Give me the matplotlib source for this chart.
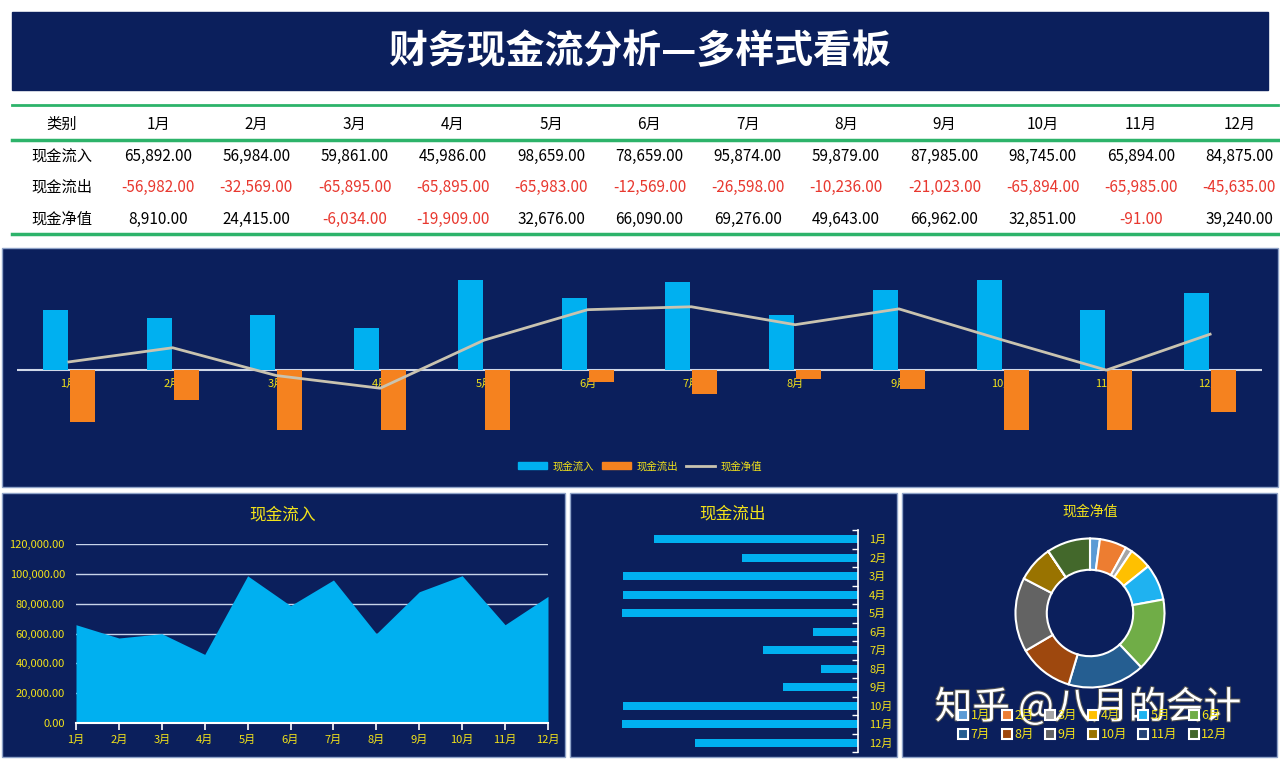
import numpy as np
import matplotlib
matplotlib.use("Agg")
import matplotlib.pyplot as plt
from matplotlib.patches import Rectangle
from matplotlib.lines import Line2D
from matplotlib.patches import Patch
import matplotlib.patheffects as pe

plt.rcParams['font.family'] = ['Noto Sans CJK SC', 'DejaVu Sans']

# data
months = ["1月", "2月", "3月", "4月", "5月", "6月", "7月", "8月", "9月", "10月", "11月", "12月"]
row_names = ["现金流入", "现金流出", "现金净值"]
inflow = [65892, 56984, 59861, 45986, 98659, 78659, 95874, 59879, 87985, 98745, 65894, 84875]
outflow = [-56982, -32569, -65895, -65895, -65983, -12569, -26598, -10236, -21023, -65894, -65985, -45635]
net = [8910, 24415, -6034, -19909, 32676, 66090, 69276, 49643, 66962, 32851, -91, 39240]
area_ticks = [0, 20000, 40000, 60000, 80000, 100000, 120000]
pie_colors = ["#5B9BD5", "#ED7D31", "#A5A5A5", "#FFC000", "#1FB2F0", "#70AD47",
              "#255E91", "#9E480E", "#636363", "#997300", "#264478", "#43682B"]

W, H = 1280, 760
NAVY = "#0b1f5c"
YEL = "#f2e21a"
BLUE = "#00b0f0"
ORANGE = "#f5821f"


def px(x0, y0, x1, y1):
    return [x0 / W, 1 - y1 / H, (x1 - x0) / W, (y1 - y0) / H]


fig = plt.figure(figsize=(12.8, 7.6), dpi=100)
fig.patch.set_facecolor("white")

bg = fig.add_axes([0, 0, 1, 1])
bg.set_xlim(0, W)
bg.set_ylim(H, 0)
bg.axis("off")

# title banner
bg.add_patch(Rectangle((12, 12), 1256, 78, color=NAVY))
bg.text(640, 52, "财务现金流分析—多样式看板", color="white", fontsize=28,
        fontweight="bold", ha="center", va="center")

# table
for y, lw in [(105, 2), (140, 2.5), (234, 2.5)]:
    bg.plot([12, 1278], [y, y], color="#2db36a", lw=lw)
col_x = [62] + [158 + i * 98.3 for i in range(12)]
row_y = [124, 156, 187, 219]
bg.text(col_x[0], row_y[0], "类别", ha="center", va="center", fontsize=11)
for i, m in enumerate(months):
    bg.text(col_x[i + 1], row_y[0], m, ha="center", va="center", fontsize=11)
for r, (name, vals) in enumerate(zip(row_names, [inflow, outflow, net])):
    bg.text(col_x[0], row_y[r + 1], name, ha="center", va="center", fontsize=11)
    for i, v in enumerate(vals):
        c = "#e8382f" if v < 0 else "black"
        bg.text(col_x[i + 1], row_y[r + 1], f"{v:,.2f}", ha="center", va="center",
                fontsize=11, color=c)

# panels
for (x0, y0, x1, y1) in [(2, 248, 1278, 487), (2, 493, 565, 757),
                         (570, 493, 897, 757), (902, 493, 1277, 757)]:
    bg.add_patch(Rectangle((x0, y0), x1 - x0, y1 - y0, facecolor=NAVY,
                           edgecolor="#8fa3c8", lw=1))

# combo chart
ax = fig.add_axes(px(17, 265, 1262, 455))
ax.set_facecolor("none")
x = np.arange(1, 13)
ax.bar(x - 0.13, inflow, width=0.24, color=BLUE, zorder=3)
ax.bar(x + 0.13, outflow, width=0.24, color=ORANGE, zorder=3)
ax.plot(x, net, color="#c9c3b0", lw=2, zorder=4)
ax.axhline(0, color="#d0d8e8", lw=1.5, zorder=2)
for i, m in enumerate(months):
    ax.annotate(m, xy=(x[i], 0), xytext=(0, -10), textcoords="offset points",
                ha="center", va="center", color=YEL, fontsize=8, zorder=1)
ax.set_xlim(0.5, 12.5)
ax.set_ylim(-93000, 115000)
ax.axis("off")
handles = [Patch(color=BLUE, label="现金流入"), Patch(color=ORANGE, label="现金流出"),
           Line2D([], [], color="#c9c3b0", lw=2, label="现金净值")]
fig.legend(handles=handles, loc="center", bbox_to_anchor=(640 / W, 1 - 466 / H),
           ncol=3, frameon=False, labelcolor=YEL, fontsize=7.5,
           handlelength=2.8, handleheight=0.6, columnspacing=0.8, handletextpad=0.5)

# area chart
bg.text(283, 515, "现金流入", color=YEL, fontsize=12, ha="center", va="center")
ax2 = fig.add_axes(px(76, 544, 548, 723))
ax2.set_facecolor("none")
xi = np.arange(12)
for t in area_ticks[1:]:
    ax2.axhline(t, color="#c8d4ea", lw=1, zorder=1)
ax2.fill_between(xi, inflow, color=BLUE, zorder=2, lw=0)
ax2.set_xlim(0, 11)
ax2.set_ylim(0, 120000)
ax2.set_yticks(area_ticks)
ax2.set_yticklabels([f"{t:,.2f}" for t in area_ticks])
ax2.set_xticks(xi)
ax2.set_xticklabels(months)
for s in ["left", "right", "top"]:
    ax2.spines[s].set_visible(False)
ax2.spines["bottom"].set_color("white")
ax2.spines["bottom"].set_linewidth(1.5)
ax2.spines["bottom"].set_zorder(3)
ax2.tick_params(axis="x", colors="white", labelcolor=YEL, labelsize=8, length=5, width=1.2)
ax2.tick_params(axis="y", length=0, labelcolor=YEL, labelsize=8, pad=8)

# horizontal bar chart
bg.text(733, 514, "现金流出", color=YEL, fontsize=12, ha="center", va="center")
ax3 = fig.add_axes(px(590, 530, 858, 752))
ax3.set_facecolor("none")
ax3.barh(xi, outflow, height=0.45, color=BLUE)
ax3.set_xlim(-75000, 0)
ax3.set_ylim(11.5, -0.5)
for s in ["left", "bottom", "top"]:
    ax3.spines[s].set_visible(False)
ax3.spines["right"].set_color("white")
ax3.spines["right"].set_linewidth(1.2)
ax3.set_xticks([])
ax3.yaxis.tick_right()
ax3.set_yticks(xi)
ax3.set_yticklabels(months)
ax3.set_yticks(np.arange(-0.5, 12, 1), minor=True)
ax3.tick_params(axis="y", which="major", length=0, labelcolor=YEL, labelsize=8, pad=8)
ax3.tick_params(axis="y", which="minor", direction="in", length=4, color="white", width=1)

# donut
bg.text(1090, 512, "现金净值", color=YEL, fontsize=10, ha="center", va="center")
ax4 = fig.add_axes(px(1014, 537, 1166, 689))
ax4.pie(np.abs(net), colors=pie_colors, startangle=90, counterclock=False,
        wedgeprops=dict(width=0.42, edgecolor="white", linewidth=1.5))
ax4.set_xlim(-1.02, 1.02)
ax4.set_ylim(-1.02, 1.02)
ax4.set_aspect("equal")
pie_handles = [Line2D([], [], marker="s", ls="", markersize=6.5, markerfacecolor=c,
                      markeredgecolor="white", markeredgewidth=1.5, label=m)
               for m, c in zip(months, pie_colors)]
# legend fills column by column, so interleave the two rows
order = [i + 6 * r for i in range(6) for r in range(2)]
fig.legend(handles=[pie_handles[k] for k in order], loc="center",
           bbox_to_anchor=(1093 / W, 1 - 725 / H),
           ncol=6, frameon=False, labelcolor=YEL, fontsize=9, handlelength=0.8,
           handletextpad=0.2, columnspacing=0.9, labelspacing=0.5)

# watermark
bg.text(1088, 708, "知乎 @八月的会计", color="white", fontsize=27, ha="center",
        va="center", zorder=10,
        path_effects=[pe.withStroke(linewidth=1.5, foreground="#555555")])

fig.savefig("out.png", dpi=100)
